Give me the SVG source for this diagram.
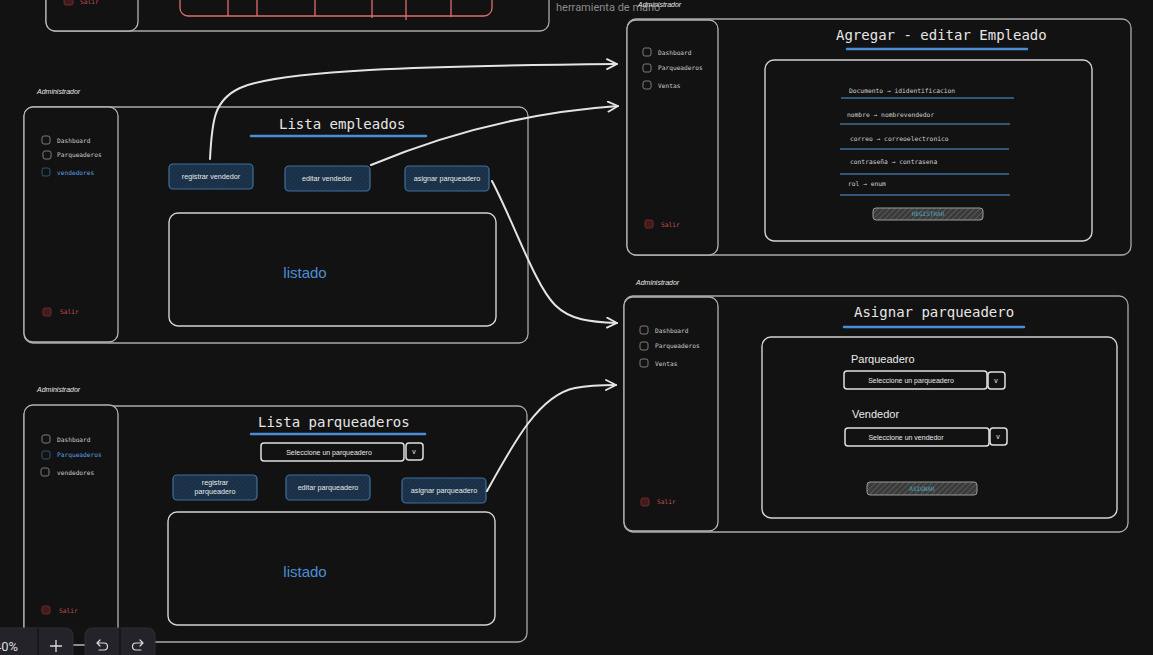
<svg xmlns="http://www.w3.org/2000/svg" width="1153" height="655" viewBox="0 0 1153 655">
<style>
.frame{fill:none;stroke:#a9a9a9;stroke-width:1.3}
.side{fill:#121212;stroke:#b4b4b4;stroke-width:1.3}
.inner{fill:none;stroke:#d4d4d4;stroke-width:1.4}
.admin{font-family:"Liberation Sans",sans-serif;font-size:7px;font-style:italic;fill:#e8e8e8}
.menu{font-family:"DejaVu Sans Mono",monospace;font-size:6.2px;fill:#c8c8c8}
.menub{font-family:"DejaVu Sans Mono",monospace;font-size:6.2px;fill:#5a9ee0}
.salir{font-family:"DejaVu Sans Mono",monospace;font-size:6.2px;fill:#c0504d}
.cb{fill:none;stroke:#7a7a7a;stroke-width:1}
.cbb{fill:none;stroke:#2f5478;stroke-width:1}
.cbr{fill:url(#hr);stroke:#6e2b2b;stroke-width:1}
.title{font-family:"DejaVu Sans Mono",monospace;font-size:14px;fill:#e6e6e6}
.ul{stroke:#4a8fd6;stroke-width:2.5;stroke-linecap:round}
.fl{stroke:#3f6f9e;stroke-width:1.6}
.btn{fill:url(#hb);stroke:#3f6f9e;stroke-width:1.2}
.btxt{font-family:"Liberation Sans",sans-serif;font-size:7.2px;fill:#e8e8e8;text-anchor:middle}
.listado{font-family:"Liberation Sans",sans-serif;font-size:15px;fill:#4a8fd6;text-anchor:middle}
.sel{fill:#121212;stroke:#e0e0e0;stroke-width:1.5}
.stxt{font-family:"Liberation Sans",sans-serif;font-size:7px;fill:#e8e8e8;text-anchor:middle}
.field{font-family:"DejaVu Sans Mono",monospace;font-size:6.3px;fill:#cfcfcf}
.gbtn{fill:url(#hg);stroke:#9a9a9a;stroke-width:1}
.gtxt{font-family:"DejaVu Sans Mono",monospace;font-size:6px;fill:#4fa6b8;text-anchor:middle}
.lbl{font-family:"Liberation Sans",sans-serif;font-size:11px;fill:#eaeaea}
.conn{fill:none;stroke:#e4e4e4;stroke-width:2;stroke-linecap:round}
.tb{fill:#232329;stroke:#2f2f36;stroke-width:1}
</style>
<defs>
<pattern id="hb" width="3" height="3" patternUnits="userSpaceOnUse" patternTransform="rotate(45)">
<rect width="3" height="3" fill="#1a2f45"/><line x1="0" y1="0" x2="0" y2="3" stroke="#22405e" stroke-width="1"/>
</pattern>
<pattern id="hg" width="4" height="4" patternUnits="userSpaceOnUse" patternTransform="rotate(45)">
<rect width="4" height="4" fill="#3a3a3a"/><line x1="0" y1="0" x2="0" y2="4" stroke="#6a6a6a" stroke-width="1.2"/>
</pattern>
<pattern id="hr" width="2" height="2" patternUnits="userSpaceOnUse" patternTransform="rotate(45)">
<rect width="2" height="2" fill="#3a1818"/><line x1="0" y1="0" x2="0" y2="2" stroke="#5a2424" stroke-width="1"/>
</pattern>
<marker id="arr" viewBox="0 0 12 12" refX="11" refY="6" markerWidth="12" markerHeight="12" markerUnits="userSpaceOnUse" orient="auto">
<path d="M1,1 L11,6 L1,11" fill="none" stroke="#e4e4e4" stroke-width="1.8" stroke-linecap="round" stroke-linejoin="round"/>
</marker>
</defs>
<rect width="1153" height="655" fill="#121212"/>

<g id="frame-top-partial">
<rect class="frame" x="46" y="-200" width="503" height="231" rx="9"/>
<rect class="side" x="46" y="-200" width="92" height="231" rx="9"/>
<rect class="cbr" x="64" y="-4" width="9" height="9" rx="2"/>
<text class="salir" x="80" y="4">Salir</text>
<rect x="180" y="-100" width="312" height="116" rx="8" fill="none" stroke="#e06c6c" stroke-width="1.3"/>
<g stroke="#e06c6c" stroke-width="1.3">
<line x1="228" y1="0" x2="228" y2="16"/><line x1="257" y1="0" x2="257" y2="16"/>
<line x1="315" y1="0" x2="315" y2="16"/><line x1="372" y1="0" x2="372" y2="18"/>
<line x1="406" y1="0" x2="406" y2="20"/><line x1="451" y1="0" x2="451" y2="17"/>
</g>
<text x="556" y="11" font-family="Roboto,sans-serif" font-size="11px" fill="#8a8a8a">herramienta de mano</text>
</g>

<g id="lista-empleados">
<text class="admin" x="37" y="94">Administrador</text>
<rect class="frame" x="24" y="107" width="504" height="236" rx="9"/>
<rect class="side" x="24" y="107" width="94" height="235" rx="9"/>
<rect class="cb" x="42" y="136" width="8" height="8" rx="2"/><text class="menu" x="57" y="143">Dashboard</text>
<rect class="cb" x="43" y="151" width="8" height="8" rx="2"/><text class="menu" x="57" y="157">Parqueaderos</text>
<rect class="cbb" x="42" y="168" width="8" height="8" rx="2"/><text class="menub" x="57" y="175">vendedores</text>
<rect class="cbr" x="43" y="308" width="8" height="8" rx="2"/><text class="salir" x="60" y="314">Salir</text>
<text class="title" x="279" y="129">Lista empleados</text>
<line class="ul" x1="251" y1="136" x2="426" y2="136"/>
<g id="btn-registrar-vendedor"><rect class="btn" x="169" y="164" width="84" height="25" rx="4"/><text class="btxt" x="211" y="179">registrar vendedor</text></g>
<g id="btn-editar-vendedor"><rect class="btn" x="285" y="166" width="85" height="25" rx="4"/><text class="btxt" x="327" y="181">editar vendedor</text></g>
<g id="btn-asignar-1"><rect class="btn" x="405" y="166" width="84" height="25" rx="4"/><text class="btxt" x="447" y="181">asignar parqueadero</text></g>
<rect class="inner" x="169" y="213" width="327" height="113" rx="9"/>
<text class="listado" x="305" y="278">listado</text>
</g>

<g id="lista-parqueaderos">
<text class="admin" x="37" y="392">Administrador</text>
<rect class="frame" x="24" y="406" width="503" height="236" rx="9"/>
<rect class="side" x="24" y="405" width="94" height="240" rx="9"/>
<rect class="cb" x="42" y="435" width="8" height="8" rx="2"/><text class="menu" x="57" y="442">Dashboard</text>
<rect class="cbb" x="42" y="451" width="8" height="8" rx="2"/><text class="menub" x="57" y="457">Parqueaderos</text>
<rect class="cb" x="41" y="468" width="8" height="8" rx="2"/><text class="menu" x="57" y="475">vendedores</text>
<rect class="cbr" x="42" y="606" width="8" height="8" rx="2"/><text class="salir" x="59" y="613">Salir</text>
<text class="title" x="258" y="427">Lista parqueaderos</text>
<line class="ul" x1="251" y1="434" x2="425" y2="434"/>
<rect class="sel" x="261" y="443" width="143" height="18" rx="3"/>
<text class="stxt" x="329" y="455">Seleccione un parqueadero</text>
<rect class="sel" x="406" y="443" width="17" height="17" rx="3"/>
<text class="stxt" x="414" y="454">v</text>
<g id="btn-registrar-parq"><rect class="btn" x="173" y="475" width="84" height="25" rx="4"/><text class="btxt" x="215" y="485">registrar</text><text class="btxt" x="215" y="494">parqueadero</text></g>
<g id="btn-editar-parq"><rect class="btn" x="286" y="475" width="84" height="25" rx="4"/><text class="btxt" x="328" y="490">editar parqueadero</text></g>
<g id="btn-asignar-2"><rect class="btn" x="402" y="478" width="84" height="25" rx="4"/><text class="btxt" x="444" y="493">asignar parqueadero</text></g>
<rect class="inner" x="168" y="512" width="327" height="113" rx="9"/>
<text class="listado" x="305" y="577">listado</text>
</g>

<g id="agregar-editar-empleado">
<text class="admin" x="638" y="7">Administrador</text>
<rect class="frame" x="627" y="19" width="504" height="236" rx="9"/>
<rect class="side" x="627" y="20" width="91" height="235" rx="9"/>
<rect class="cb" x="643" y="48" width="8" height="8" rx="2"/><text class="menu" x="658" y="55">Dashboard</text>
<rect class="cb" x="643" y="64" width="8" height="8" rx="2"/><text class="menu" x="658" y="70">Parqueaderos</text>
<rect class="cb" x="643" y="81" width="8" height="8" rx="2"/><text class="menu" x="658" y="88">Ventas</text>
<rect class="cbr" x="645" y="220" width="8" height="8" rx="2"/><text class="salir" x="661" y="227">Salir</text>
<text class="title" x="836" y="40">Agregar - editar Empleado</text>
<line class="ul" x1="847" y1="49" x2="1027" y2="49"/>
<rect class="inner" x="765" y="60" width="327" height="181" rx="9"/>
<text class="field" x="849" y="93">Documento → ididentificacion</text>
<line class="fl" x1="841" y1="98" x2="1014" y2="98"/>
<text class="field" x="847" y="117">nombre → nombrevendedor</text>
<line class="fl" x1="840" y1="124" x2="1010" y2="124"/>
<text class="field" x="850" y="141">correo → correoelectronico</text>
<line class="fl" x1="840" y1="149" x2="1009" y2="149"/>
<text class="field" x="850" y="164">contraseña → contrasena</text>
<line class="fl" x1="840" y1="174" x2="1009" y2="174"/>
<text class="field" x="848" y="186">rol → enum</text>
<line class="fl" x1="840" y1="195" x2="1010" y2="195"/>
<rect class="gbtn" x="873" y="208" width="110" height="12" rx="3"/>
<text class="gtxt" x="928" y="216">REGISTRAR</text>
</g>

<g id="asignar-parqueadero">
<text class="admin" x="636" y="285">Administrador</text>
<rect class="frame" x="624" y="296" width="504" height="236" rx="9"/>
<rect class="side" x="624" y="297" width="94" height="234" rx="9"/>
<rect class="cb" x="640" y="326" width="8" height="8" rx="2"/><text class="menu" x="655" y="333">Dashboard</text>
<rect class="cb" x="640" y="342" width="8" height="8" rx="2"/><text class="menu" x="655" y="348">Parqueaderos</text>
<rect class="cb" x="640" y="359" width="8" height="8" rx="2"/><text class="menu" x="655" y="366">Ventas</text>
<rect class="cbr" x="641" y="498" width="8" height="8" rx="2"/><text class="salir" x="657" y="504">Salir</text>
<text class="title" x="854" y="317">Asignar parqueadero</text>
<line class="ul" x1="844" y1="327" x2="1024" y2="327"/>
<rect class="inner" x="762" y="337" width="355" height="181" rx="9"/>
<text class="lbl" x="851" y="363">Parqueadero</text>
<rect class="sel" x="844" y="371" width="143" height="18" rx="3"/>
<text class="stxt" x="911" y="383">Seleccione un parqueadero</text>
<rect class="sel" x="988" y="372" width="17" height="17" rx="3"/>
<text class="stxt" x="996" y="383">v</text>
<text class="lbl" x="852" y="418">Vendedor</text>
<rect class="sel" x="845" y="428" width="144" height="18" rx="3"/>
<text class="stxt" x="906" y="440">Seleccione un vendedor</text>
<rect class="sel" x="990" y="428" width="17" height="17" rx="3"/>
<text class="stxt" x="998" y="439">v</text>
<rect class="gbtn" x="867" y="482" width="110" height="13" rx="3"/>
<text class="gtxt" x="922" y="491">ASIGNAR</text>
</g>

<g id="connectors">
<path class="conn" marker-end="url(#arr)" d="M210 159 C212 120, 214 100, 240 88 C280 70, 420 66, 617 64"/>
<path class="conn" marker-end="url(#arr)" d="M371 165 C450 132, 530 112, 618 106"/>
<path class="conn" marker-end="url(#arr)" d="M492 181 C515 225, 535 285, 555 305 C570 320, 590 322, 617 323"/>
<path class="conn" marker-end="url(#arr)" d="M487 491 C515 440, 540 395, 575 388 C590 385, 600 385, 616 385"/>
</g>

<g id="toolbar">
<rect class="tb" x="-20" y="628" width="93" height="40" rx="7"/>
<line x1="38" y1="628" x2="38" y2="655" stroke="#121212" stroke-width="1.2"/>
<text x="-6" y="651" font-family="Roboto,sans-serif" font-size="13px" fill="#dcdcdc">40%</text>
<path d="M50 646 H62 M56 640 V652" stroke="#dcdcdc" stroke-width="1.3" fill="none"/>
<rect class="tb" x="85" y="628" width="70" height="40" rx="7"/>
<line x1="120" y1="628" x2="120" y2="655" stroke="#121212" stroke-width="1.2"/>
<path d="M100 640 L97 643 L100 646 M97 643 H104 A3.5 3.5 0 0 1 104 650 H99" stroke="#dcdcdc" stroke-width="1.2" fill="none" stroke-linecap="round" stroke-linejoin="round"/>
<path d="M140 640 L143 643 L140 646 M143 643 H136 A3.5 3.5 0 0 0 136 650 H141" stroke="#dcdcdc" stroke-width="1.2" fill="none" stroke-linecap="round" stroke-linejoin="round"/>
</g>
</svg>
